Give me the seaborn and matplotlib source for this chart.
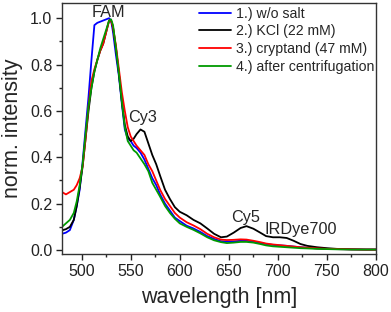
import numpy as np
import pandas as pd
import matplotlib
matplotlib.use("Agg")
import matplotlib.pyplot as plt
import seaborn as sns
from matplotlib.ticker import MultipleLocator

# wavelength grid [nm] shared by all four spectra
wavelength = [480, 484, 488, 492, 495, 498, 501, 504, 507, 510, 513, 516, 519, 522, 525,
              528, 530, 532, 535, 538, 541, 544, 547, 550, 553, 556, 560, 564, 568, 572,
              576, 580, 585, 590, 595, 600, 607, 614, 621, 628, 635, 642, 648, 655, 662,
              668, 675, 682, 688, 695, 702, 709, 716, 723, 730, 740, 750, 760, 775, 790, 800]

wo_salt = [0.070, 0.075, 0.086, 0.13, 0.19, 0.26, 0.38, 0.52, 0.66, 0.82, 0.97, 0.98, 0.985, 0.99, 0.995,
           1.0, 0.99, 0.94, 0.84, 0.75, 0.63, 0.52, 0.48, 0.47, 0.45, 0.44, 0.42, 0.39, 0.35, 0.31,
           0.28, 0.24, 0.20, 0.17, 0.14, 0.125, 0.105, 0.093, 0.078, 0.06, 0.048, 0.038, 0.036, 0.037, 0.040,
           0.040, 0.036, 0.030, 0.026, 0.022, 0.020, 0.018, 0.015, 0.012, 0.010, 0.007, 0.005, 0.004, 0.003, 0.002, 0.002]

kcl = [0.085, 0.09, 0.10, 0.13, 0.19, 0.27, 0.36, 0.48, 0.60, 0.70, 0.77, 0.82, 0.86, 0.89, 0.94,
       0.99, 0.99, 0.96, 0.87, 0.76, 0.64, 0.54, 0.49, 0.47, 0.48, 0.50, 0.52, 0.51, 0.46, 0.41,
       0.37, 0.32, 0.26, 0.22, 0.185, 0.165, 0.15, 0.13, 0.115, 0.093, 0.07, 0.055, 0.058, 0.075, 0.095,
       0.103, 0.092, 0.075, 0.06, 0.055, 0.055, 0.052, 0.04, 0.026, 0.018, 0.012, 0.008, 0.005, 0.003, 0.002, 0.002]

cryptand = [0.25, 0.24, 0.25, 0.26, 0.28, 0.31, 0.36, 0.48, 0.62, 0.73, 0.78, 0.82, 0.86, 0.89, 0.94,
            0.99, 0.99, 0.96, 0.88, 0.78, 0.68, 0.60, 0.53, 0.49, 0.47, 0.45, 0.43, 0.41, 0.37, 0.34,
            0.30, 0.26, 0.22, 0.19, 0.16, 0.14, 0.12, 0.106, 0.09, 0.07, 0.055, 0.045, 0.043, 0.044, 0.046,
            0.045, 0.040, 0.034, 0.028, 0.024, 0.021, 0.018, 0.015, 0.012, 0.010, 0.007, 0.005, 0.004, 0.003, 0.002, 0.002]

centrifuged = [0.10, 0.115, 0.13, 0.16, 0.21, 0.28, 0.37, 0.50, 0.62, 0.70, 0.77, 0.82, 0.87, 0.91, 0.95,
               0.99, 0.995, 0.97, 0.87, 0.76, 0.64, 0.53, 0.47, 0.45, 0.43, 0.42, 0.395, 0.37, 0.34, 0.29,
               0.26, 0.23, 0.19, 0.16, 0.135, 0.115, 0.10, 0.087, 0.072, 0.055, 0.042, 0.034, 0.030, 0.032, 0.035,
               0.035, 0.032, 0.026, 0.020, 0.016, 0.014, 0.012, 0.010, 0.008, 0.007, 0.005, 0.004, 0.003, 0.002, 0.002, 0.002]

labels = ["1.) w/o salt", "2.) KCl (22 mM)", "3.) cryptand (47 mM)", "4.) after centrifugation"]
colors = ["#0000ff", "#000000", "#ff0000", "#009a00"]

# dye annotations: (text, wavelength, intensity)
dyes = [("FAM", 527, 1.026), ("Cy3", 562, 0.573), ("Cy5", 667, 0.142), ("IRDye700", 723, 0.09)]

frames = []
for lab, vals in zip(labels, [wo_salt, kcl, cryptand, centrifuged]):
    frames.append(pd.DataFrame({"wavelength": wavelength, "intensity": vals, "sample": lab}))
df = pd.concat(frames, ignore_index=True)

sns.set_style("ticks")
plt.rcParams["font.family"] = ["Liberation Sans", "DejaVu Sans"]

fig = plt.figure(figsize=(3.91, 3.12), dpi=100)
ax = fig.add_axes([0.1586, 0.186, 0.8030, 0.804])

sns.lineplot(data=df, x="wavelength", y="intensity", hue="sample", hue_order=labels,
             palette=colors, estimator=None, sort=False, linewidth=1.3, ax=ax)

for txt, xw, yv in dyes:
    ax.text(xw, yv, txt, ha="center", va="center", fontsize=11.7)

ax.set_xlim(480, 800)
ax.set_ylim(-0.017, 1.065)
ax.xaxis.set_major_locator(MultipleLocator(50))
ax.xaxis.set_minor_locator(MultipleLocator(25))
ax.yaxis.set_major_locator(MultipleLocator(0.2))
ax.yaxis.set_minor_locator(MultipleLocator(0.1))
ax.yaxis.set_major_formatter(matplotlib.ticker.FormatStrFormatter("%.1f"))
ax.tick_params(which="major", direction="out", length=4, width=1, labelsize=11.5,
               colors="#222222", pad=3)
ax.tick_params(which="minor", direction="out", length=2.5, width=1)
for s in ax.spines.values():
    s.set_linewidth(1.0)
    s.set_color("#333333")

ax.set_xlabel("wavelength [nm]", fontsize=15.5, labelpad=6)
ax.set_ylabel("norm. intensity", fontsize=15.5, labelpad=5)

ax.legend(loc="upper right", frameon=False, fontsize=10.2, handlelength=2.25,
          handletextpad=0.35, labelspacing=0.25, borderaxespad=0.0, borderpad=0.0,
          bbox_to_anchor=(0.995, 0.985))

fig.savefig("out.png", dpi=100)
